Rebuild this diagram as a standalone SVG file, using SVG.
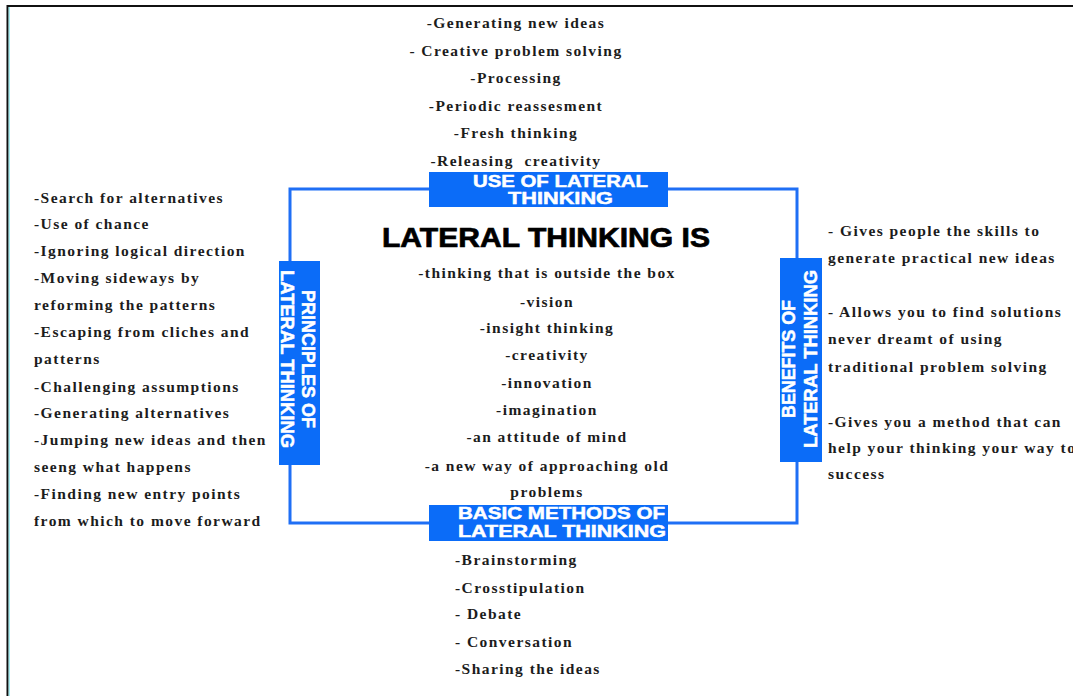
<svg xmlns="http://www.w3.org/2000/svg" width="1073" height="696" viewBox="0 0 1073 696">
<style>
.t{font-family:"Liberation Serif","Times New Roman",serif;font-weight:bold;font-size:15.5px;letter-spacing:1.45px;fill:#1c1c1c}
.c{text-anchor:middle}
.lb{font-family:"Liberation Sans",Arial,sans-serif;font-weight:900;fill:#ffffff;stroke:#ffffff;stroke-width:0.5px}
.box{fill:#0b6cf8}
.title{font-family:"Liberation Sans",Arial,sans-serif;font-weight:bold;font-size:27px;fill:#000;stroke:#000;stroke-width:0.7px}
</style>
<rect width="1073" height="696" fill="#fff"/>
<g id="page-border">
<line x1="7" y1="6" x2="1073" y2="6" stroke="#111" stroke-width="2"/>
<line x1="7.5" y1="5" x2="7.5" y2="696" stroke="#111" stroke-width="2"/>
<line x1="9.2" y1="7" x2="9.2" y2="696" stroke="#5fe0e8" stroke-width="0.8"/>
</g>
<g id="connectors">
<rect x="290" y="189" width="507" height="334" fill="none" stroke="#1f6ff5" stroke-width="3"/>
</g>
<g id="center">
<text class="title" x="382" y="247" textLength="328" lengthAdjust="spacingAndGlyphs">LATERAL THINKING IS</text>
<text class="t c" x="547" y="278">-thinking that is outside the box</text>
<text class="t c" x="547" y="307">-vision</text>
<text class="t c" x="547" y="333">-insight thinking</text>
<text class="t c" x="547" y="360">-creativity</text>
<text class="t c" x="547" y="388">-innovation</text>
<text class="t c" x="547" y="415">-imagination</text>
<text class="t c" x="547" y="442">-an attitude of mind</text>
<text class="t c" x="547" y="471">-a new way of approaching old</text>
<text class="t c" x="547" y="497">problems</text>
</g>
<g id="use-of-lateral-thinking">
<rect class="box" x="429" y="172" width="239" height="35"/>
<text class="lb" x="473" y="187" font-size="17" textLength="175" lengthAdjust="spacingAndGlyphs">USE OF LATERAL</text>
<text class="lb" x="508" y="204" font-size="17" textLength="105" lengthAdjust="spacingAndGlyphs">THINKING</text>
<text class="t c" x="516" y="28">-Generating new ideas</text>
<text class="t c" x="516" y="56">- Creative problem solving</text>
<text class="t c" x="516" y="83">-Processing</text>
<text class="t c" x="516" y="111">-Periodic reassesment</text>
<text class="t c" x="516" y="138">-Fresh thinking</text>
<text class="t c" x="516" y="166" xml:space="preserve">-Releasing  creativity</text>
</g>
<g id="basic-methods">
<rect class="box" x="429" y="505" width="239" height="36"/>
<text class="lb" x="458" y="519" font-size="17" textLength="207" lengthAdjust="spacingAndGlyphs">BASIC METHODS OF</text>
<text class="lb" x="458" y="537" font-size="17" textLength="208" lengthAdjust="spacingAndGlyphs">LATERAL THINKING</text>
<text class="t" x="455" y="565">-Brainstorming</text>
<text class="t" x="455" y="593">-Crosstipulation</text>
<text class="t" x="455" y="619">- Debate</text>
<text class="t" x="455" y="647">- Conversation</text>
<text class="t" x="455" y="674">-Sharing the ideas</text>
</g>
<g id="principles">
<rect class="box" x="279" y="261" width="41" height="204"/>
<text class="lb" font-size="18" transform="translate(302,290) rotate(90)" textLength="138" lengthAdjust="spacingAndGlyphs">PRINCIPLES OF</text>
<text class="lb" font-size="18" transform="translate(281,270) rotate(90)" textLength="178" lengthAdjust="spacingAndGlyphs">LATERAL THINKING</text>
<text class="t" x="34" y="203">-Search for alternatives</text>
<text class="t" x="34" y="229">-Use of chance</text>
<text class="t" x="34" y="256">-Ignoring logical direction</text>
<text class="t" x="34" y="283">-Moving sideways by</text>
<text class="t" x="34" y="310">reforming the patterns</text>
<text class="t" x="34" y="337">-Escaping from cliches and</text>
<text class="t" x="34" y="364">patterns</text>
<text class="t" x="34" y="392">-Challenging assumptions</text>
<text class="t" x="34" y="418">-Generating alternatives</text>
<text class="t" x="34" y="445">-Jumping new ideas and then</text>
<text class="t" x="34" y="472">seeng what happens</text>
<text class="t" x="34" y="499">-Finding new entry points</text>
<text class="t" x="34" y="526">from which to move forward</text>
</g>
<g id="benefits">
<rect class="box" x="780" y="258" width="42" height="204"/>
<text class="lb" font-size="18" transform="translate(795,418) rotate(-90)" textLength="118" lengthAdjust="spacingAndGlyphs">BENEFITS OF</text>
<text class="lb" font-size="18" transform="translate(817,448) rotate(-90)" textLength="178" lengthAdjust="spacingAndGlyphs">LATERAL THINKING</text>
<text class="t" x="828" y="236">- Gives people the skills to</text>
<text class="t" x="828" y="263">generate practical new ideas</text>
<text class="t" x="828" y="317">- Allows you to find solutions</text>
<text class="t" x="828" y="344">never dreamt of using</text>
<text class="t" x="828" y="372">traditional problem solving</text>
<text class="t" x="828" y="427">-Gives you a method that can</text>
<text class="t" x="828" y="453">help your thinking your way to</text>
<text class="t" x="828" y="479">success</text>
</g>
</svg>
